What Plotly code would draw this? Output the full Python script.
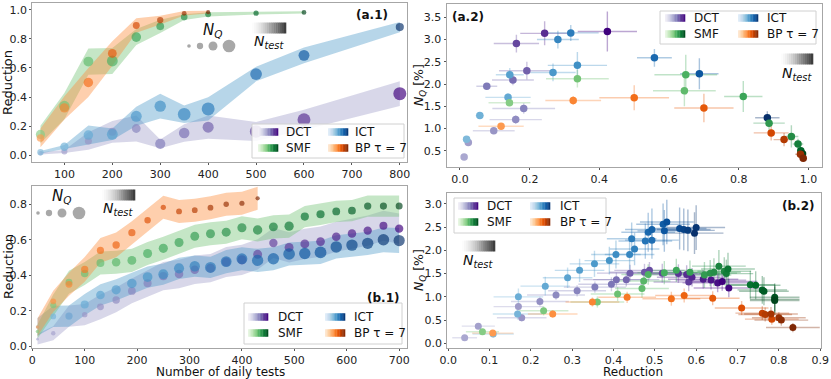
import numpy as np
import plotly.graph_objects as go
from plotly.colors import hex_to_rgb

W, H = 831, 379
FONT = "DejaVu Sans"

# ---------------- colour maps (matplotlib sequential) ----------------
PURPLES = ['#fcfbfd', '#efedf5', '#dadaeb', '#bcbddc', '#9e9ac8', '#807dba', '#6a51a3', '#54278f', '#3f007d']
BLUES = ['#f7fbff', '#deebf7', '#c6dbef', '#9ecae1', '#6baed6', '#4292c6', '#2171b5', '#08519c', '#08306b']
GREENS = ['#f7fcf5', '#e5f5e0', '#c7e9c0', '#a1d99b', '#74c476', '#41ab5d', '#238b45', '#006d2c', '#00441b']
ORANGES = ['#fff5eb', '#fee6ce', '#fdd0a2', '#fdae6b', '#fd8d3c', '#f16913', '#d94801', '#a63603', '#7f2704']
GREYS = ['#ffffff', '#f0f0f0', '#d9d9d9', '#bdbdbd', '#969696', '#737373', '#525252', '#252525']

# ---------------- data: panel (a) ----------------
a_dct_tests = [50, 100, 150, 200, 250, 300, 350, 400, 500, 600, 800]
a_dct_red = [0.012, 0.024, 0.097, 0.16, 0.183, 0.077, 0.152, 0.192, 0.162, 0.243, 0.423]
a_dct_red_err = [0.008, 0.01, 0.06, 0.075, 0.09, 0.03, 0.06, 0.08, 0.065, 0.07, 0.085]
a_dct_nq = [0.357, 0.687, 0.95, 1.20, 1.45, 1.95, 2.09, 2.30, 2.91, 3.14, 3.18]
a_dct_nq_err = [0.04, 0.05, 0.06, 0.1, 0.12, 0.06, 0.12, 0.2, 0.2, 0.27, 0.45]

a_ict_tests = [50, 100, 150, 200, 250, 300, 350, 400, 500, 600, 800]
a_ict_red = [0.019, 0.057, 0.138, 0.143, 0.267, 0.337, 0.281, 0.318, 0.558, 0.687, 0.882]
a_ict_red_err = [0.008, 0.012, 0.065, 0.04, 0.065, 0.085, 0.06, 0.08, 0.05, 0.055, 0.035]
a_ict_nq = [0.755, 1.29, 1.70, 2.21, 2.26, 2.42, 3.00, 3.15, 2.59, 2.23, 1.24]
a_ict_nq_err = [0.03, 0.05, 0.1, 0.15, 0.2, 0.3, 0.2, 0.18, 0.2, 0.35, 0.15]

a_smf_tests = [50, 100, 150, 200, 250, 300, 350, 400, 500, 600]
a_smf_red = [0.142, 0.337, 0.644, 0.648, 0.813, 0.887, 0.951, 0.97, 0.978, 0.983]
a_smf_red_err = [0.06, 0.09, 0.09, 0.09, 0.055, 0.045, 0.02, 0.015, 0.01, 0.008]
a_smf_nq = [1.58, 2.12, 1.85, 2.21, 1.72, 1.12, 0.82, 0.65, 0.50, 0.43]
a_smf_nq_err = [0.05, 0.2, 0.35, 0.45, 0.35, 0.2, 0.25, 0.12, 0.08, 0.06]

a_bp_tests = [50, 100, 150, 200, 250, 300, 350, 400]
a_bp_red = [0.118, 0.325, 0.50, 0.70, 0.893, 0.93, 0.977, 0.985]
a_bp_red_err = [0.065, 0.08, 0.1, 0.085, 0.05, 0.03, 0.015, 0.01]
a_bp_nq = [1.05, 1.63, 1.69, 1.46, 0.90, 0.75, 0.42, 0.33]
a_bp_nq_err = [0.05, 0.1, 0.28, 0.32, 0.17, 0.15, 0.08, 0.05]

# ---------------- data: panel (b) ----------------
b_tests = [10, 40, 70, 100, 130, 160, 190, 220, 250, 280, 310, 340, 370, 400,
           430, 460, 490, 520, 550, 580, 610, 640, 670, 700]
b_bp_tests = [10, 40, 70, 100, 130, 160, 190, 220, 250, 280, 310, 340, 370, 400, 430]

b_dct_red = [0.04, 0.073, 0.17, 0.178, 0.222, 0.261, 0.312, 0.355, 0.395, 0.407, 0.431, 0.44,
             0.475, 0.487, 0.518, 0.582, 0.557, 0.577, 0.59, 0.617, 0.636, 0.652, 0.679, 0.663]
b_dct_red_err = [0.03, 0.04, 0.06, 0.06, 0.07, 0.07, 0.07, 0.075, 0.08, 0.08, 0.08, 0.08,
                 0.085, 0.085, 0.085, 0.085, 0.085, 0.085, 0.085, 0.085, 0.085, 0.085, 0.085, 0.085]
b_dct_nq = [0.12, 0.37, 0.79, 0.55, 0.90, 1.04, 1.13, 1.21, 1.27, 1.37, 1.37, 1.51,
            1.53, 1.57, 1.51, 1.32, 1.50, 1.48, 1.42, 1.38, 1.36, 1.30, 1.19, 1.33]
b_dct_nq_err = [0.04, 0.06, 0.08, 0.08, 0.1, 0.1, 0.12, 0.12, 0.15, 0.15, 0.15, 0.18,
                0.18, 0.18, 0.2, 0.2, 0.2, 0.2, 0.2, 0.2, 0.2, 0.2, 0.2, 0.2]

b_ict_red = [0.109, 0.168, 0.17, 0.235, 0.289, 0.318, 0.354, 0.39, 0.406, 0.439, 0.451, 0.444,
             0.477, 0.493, 0.484, 0.493, 0.52, 0.523, 0.529, 0.56, 0.57, 0.58, 0.60, 0.596]
b_ict_red_err = [0.05, 0.06, 0.06, 0.06, 0.06, 0.06, 0.06, 0.06, 0.06, 0.06, 0.06, 0.06,
                 0.065, 0.065, 0.065, 0.065, 0.065, 0.065, 0.065, 0.065, 0.065, 0.065, 0.07, 0.07]
b_ict_nq = [0.20, 0.63, 1.0, 1.23, 1.41, 1.57, 1.71, 1.78, 1.91, 1.91, 2.03, 2.25,
            2.20, 2.22, 2.39, 2.45, 2.56, 2.42, 2.61, 2.47, 2.45, 2.43, 2.49, 2.37]
b_ict_nq_err = [0.08, 0.12, 0.18, 0.2, 0.22, 0.25, 0.28, 0.3, 0.3, 0.32, 0.35, 0.35,
                0.38, 0.4, 0.42, 0.45, 0.45, 0.45, 0.48, 0.45, 0.45, 0.45, 0.48, 0.45]

b_smf_red = [0.083, 0.231, 0.361, 0.41, 0.469, 0.473, 0.484, 0.523, 0.552, 0.585, 0.62, 0.634,
             0.643, 0.668, 0.655, 0.673, 0.677, 0.731, 0.744, 0.76, 0.764, 0.79, 0.79, 0.79]
b_smf_red_err = [0.04, 0.06, 0.065, 0.065, 0.065, 0.065, 0.065, 0.065, 0.065, 0.065, 0.065, 0.065,
                 0.065, 0.065, 0.065, 0.065, 0.065, 0.06, 0.06, 0.06, 0.06, 0.06, 0.06, 0.06]
b_smf_nq = [0.25, 0.70, 0.89, 1.06, 1.18, 1.34, 1.48, 1.52, 1.57, 1.53, 1.47, 1.51,
            1.53, 1.55, 1.66, 1.50, 1.60, 1.26, 1.25, 1.15, 1.12, 0.99, 0.95, 0.92]
b_smf_nq_err = [0.06, 0.1, 0.12, 0.15, 0.2, 0.2, 0.22, 0.25, 0.25, 0.25, 0.28, 0.28,
                0.3, 0.3, 0.35, 0.3, 0.35, 0.3, 0.3, 0.3, 0.3, 0.3, 0.3, 0.3]

b_bp_red = [0.108, 0.253, 0.349, 0.433, 0.54, 0.571, 0.64, 0.71, 0.783, 0.76, 0.767, 0.781, 0.80, 0.806, 0.834]
b_bp_red_err = [0.05, 0.06, 0.065, 0.07, 0.07, 0.07, 0.065, 0.065, 0.065, 0.065, 0.065, 0.065, 0.065, 0.065, 0.065]
b_bp_nq = [0.22, 0.63, 0.89, 0.99, 0.96, 1.03, 0.97, 0.76, 0.52, 0.65, 0.62, 0.63, 0.55, 0.50, 0.34]
b_bp_nq_err = [0.05, 0.08, 0.1, 0.12, 0.15, 0.15, 0.15, 0.15, 0.12, 0.15, 0.15, 0.15, 0.12, 0.12, 0.1]

nq_legend_sizes = [0.25, 0.75, 1.5, 3.0]

LEGEND_LABELS = ["DCT", "ICT", "SMF", "BP τ = 7"]

# ---------------- helpers ----------------
def interp(colors, v):
    n = len(colors) - 1
    p = min(max(v, 0.0), 1.0) * n
    i = min(int(p), n - 1)
    f = p - i
    c0, c1 = hex_to_rgb(colors[i]), hex_to_rgb(colors[i + 1])
    return tuple(int(round(a + (b - a) * f)) for a, b in zip(c0, c1))


def point_colors(cmap, tests, alpha=1.0):
    t = np.asarray(tests, float)
    u = (t - t.min()) / (t.max() - t.min())
    out = []
    for v in u:
        r, g, b = interp(cmap, 0.45 + 0.55 * v)
        out.append(f"rgba({r},{g},{b},{alpha})")
    return out


def diam(nq):
    return 7.3 * np.sqrt(np.asarray(nq, float))


def px(x):
    return x / W


def py(y):
    return 1 - y / H


fig = go.Figure()

BAND = {
    'dct': 'rgba(158,154,200,0.40)',
    'ict': 'rgba(66,146,198,0.38)',
    'smf': 'rgba(116,196,118,0.42)',
    'bp': 'rgba(253,141,60,0.42)',
}

series_a = [
    ('dct', PURPLES, a_dct_tests, a_dct_red, a_dct_red_err, a_dct_nq, a_dct_nq_err),
    ('ict', BLUES, a_ict_tests, a_ict_red, a_ict_red_err, a_ict_nq, a_ict_nq_err),
    ('smf', GREENS, a_smf_tests, a_smf_red, a_smf_red_err, a_smf_nq, a_smf_nq_err),
    ('bp', ORANGES, a_bp_tests, a_bp_red, a_bp_red_err, a_bp_nq, a_bp_nq_err),
]
series_b = [
    ('dct', PURPLES, b_tests, b_dct_red, b_dct_red_err, b_dct_nq, b_dct_nq_err),
    ('ict', BLUES, b_tests, b_ict_red, b_ict_red_err, b_ict_nq, b_ict_nq_err),
    ('smf', GREENS, b_tests, b_smf_red, b_smf_red_err, b_smf_nq, b_smf_nq_err),
    ('bp', ORANGES, b_bp_tests, b_bp_red, b_bp_red_err, b_bp_nq, b_bp_nq_err),
]


def add_reduction_panel(series, xa, ya):
    for key, cmap, tests, red, rerr, nq, nqerr in series:
        r = np.asarray(red, float)
        e = np.asarray(rerr, float)
        xs = list(tests) + list(tests)[::-1]
        ys = list(r + e) + list((r - e)[::-1])
        fig.add_trace(go.Scatter(x=xs, y=ys, fill='toself', fillcolor=BAND[key], mode='lines',
                                 line=dict(width=0), xaxis=xa, yaxis=ya, hoverinfo='skip', showlegend=False))
    for key, cmap, tests, red, rerr, nq, nqerr in series:
        fig.add_trace(go.Scatter(x=tests, y=red, mode='markers', xaxis=xa, yaxis=ya, showlegend=False,
                                 marker=dict(size=diam(nq), color=point_colors(cmap, tests, 0.95),
                                             line=dict(width=0))))


def add_scatter_panel(series, xa, ya, msize):
    for key, cmap, tests, red, rerr, nq, nqerr in series:
        ecols = point_colors(cmap, tests, 0.35)
        for i in range(len(tests)):
            fig.add_trace(go.Scatter(x=[red[i]], y=[nq[i]], mode='markers', xaxis=xa, yaxis=ya,
                                     showlegend=False, hoverinfo='skip',
                                     marker=dict(size=1, color='rgba(0,0,0,0)'),
                                     error_x=dict(type='data', array=[rerr[i]], color=ecols[i], thickness=1.4, width=0),
                                     error_y=dict(type='data', array=[nqerr[i]], color=ecols[i], thickness=1.4, width=0)))
    for key, cmap, tests, red, rerr, nq, nqerr in series:
        fig.add_trace(go.Scatter(x=red, y=nq, mode='markers', xaxis=xa, yaxis=ya, showlegend=False,
                                 marker=dict(size=msize, color=point_colors(cmap, tests, 1.0),
                                             line=dict(width=0))))


add_reduction_panel(series_a, 'x', 'y')
add_scatter_panel(series_a, 'x2', 'y2', 7.5)
add_reduction_panel(series_b, 'x3', 'y3')
add_scatter_panel(series_b, 'x4', 'y4', 7)

# ---------------- axes ----------------
def axis(domain, rng, tickvals, fmt, anchor):
    return dict(domain=domain, range=rng, tickvals=tickvals, tickformat=fmt, anchor=anchor,
                showgrid=False, zeroline=False, showline=True, mirror=True,
                linecolor='#a6a6a6', linewidth=1.3, ticks='outside', ticklen=2,
                tickcolor='#555', tickwidth=1, automargin=False,
                tickfont=dict(family=FONT, size=11, color='#222'))

layout = dict(
    width=W, height=H, margin=dict(l=0, r=0, t=0, b=0),
    paper_bgcolor='white', plot_bgcolor='white', showlegend=False,
    font=dict(family=FONT, color='#111'),
    xaxis=axis([px(32.3), px(407)], [33, 815], [100, 200, 300, 400, 500, 600, 700, 800], 'd', 'y'),
    yaxis=axis([py(162), py(3)], [-0.048, 1.048], [0, 0.2, 0.4, 0.6, 0.8, 1.0], '.1f', 'x'),
    xaxis2=axis([px(446.7), px(821.7)], [-0.038, 1.038], [0, 0.2, 0.4, 0.6, 0.8, 1.0], '.1f', 'y2'),
    yaxis2=axis([py(166.7), py(4)], [0.14, 3.8], [0.5, 1.0, 1.5, 2.0, 2.5, 3.0, 3.5], '.1f', 'x2'),
    xaxis3=axis([px(32.3), px(407)], [0, 715], [0, 100, 200, 300, 400, 500, 600, 700], 'd', 'y3'),
    yaxis3=axis([py(348), py(185.7)], [-0.01, 0.905], [0, 0.2, 0.4, 0.6, 0.8], '.1f', 'x3'),
    xaxis4=axis([px(447.3), px(821)], [-0.002, 0.902], [0, 0.1, 0.2, 0.3, 0.4, 0.5, 0.6, 0.7, 0.8, 0.9], '.1f', 'y4'),
    yaxis4=axis([py(348), py(192.7)], [-0.1, 3.24], [0, 0.5, 1.0, 1.5, 2.0, 2.5, 3.0], '.1f', 'x4'),
)
fig.update_layout(**layout)

shapes = []
annotations = []


def ann(x, y, text, size=12, **kw):
    d = dict(x=px(x), y=py(y), xref='paper', yref='paper', text=text, showarrow=False,
             xanchor='center', yanchor='middle', borderpad=0,
             font=dict(family=FONT, size=size, color='#111'))
    d.update(kw)
    annotations.append(d)


def grad_bar(x0, x1, yc, h, cmap, lo=0.08, hi=1.0, n=14):
    w = (x1 - x0) / n
    for k in range(n):
        r, g, b = interp(cmap, lo + (hi - lo) * (k + 0.5) / n)
        shapes.append(dict(type='rect', xref='paper', yref='paper', layer='above',
                           x0=px(x0 + k * w), x1=px(x0 + (k + 1) * w + 0.3),
                           y0=py(yc + h / 2), y1=py(yc - h / 2),
                           fillcolor=f'rgb({r},{g},{b})', line=dict(width=0)))


def legend(box, rows, bar1, text1, bar2, text2):
    x0, y0, x1, y1 = box
    shapes.append(dict(type='rect', xref='paper', yref='paper', layer='above',
                       x0=px(x0), x1=px(x1), y0=py(y1), y1=py(y0),
                       fillcolor='rgba(255,255,255,0.85)', line=dict(color='#d0d0d0', width=1)))
    entries = [(PURPLES, LEGEND_LABELS[0], 0, 0), (BLUES, LEGEND_LABELS[1], 0, 1),
               (GREENS, LEGEND_LABELS[2], 1, 0), (ORANGES, LEGEND_LABELS[3], 1, 1)]
    for cmap, label, row, col in entries:
        bx = bar1 if col == 0 else bar2
        tx = text1 if col == 0 else text2
        grad_bar(bx, bx + 20, rows[row], 7.5, cmap)
        ann(tx, rows[row], label, size=12, xanchor='left', yanchor='middle')


def ntest_bar(x0, x1, yc, tx, ty):
    grad_bar(x0, x1, yc, 11, GREYS, lo=0.0, hi=0.95, n=16)
    ann(tx, ty, '<i>N</i><sub><i>test</i></sub>', size=14)


def nq_legend(lx, ly, xs, yc):
    ann(lx, ly, '<i>N</i><sub><i>Q</i></sub>', size=15)
    for xc, s in zip(xs, nq_legend_sizes):
        d = 7.3 * np.sqrt(s)
        shapes.append(dict(type='circle', xref='paper', yref='paper', layer='above',
                           x0=px(xc - d / 2), x1=px(xc + d / 2), y0=py(yc + d / 2), y1=py(yc - d / 2),
                           fillcolor='#a8a8a8', line=dict(width=0)))


# legends
legend((252, 124, 404, 158), (132, 148), 258, 285, 328, 354)
legend((244, 303, 402, 344), (317, 333), 248, 277, 325, 353)
legend((660, 11, 816, 44), (18, 34), 665, 693, 738, 766)
legend((454, 198, 606, 233), (206, 222), 458, 486, 530, 559)

ntest_bar(252, 286, 28, 269, 42)
ntest_bar(102, 135, 195, 118, 209)
ntest_bar(781, 813, 59, 797, 74)
ntest_bar(462, 495, 246, 478, 261)

nq_legend(213, 30, [189, 200, 213, 229], 46)
nq_legend(62, 196, [38, 49, 62, 79], 213)

# panel labels
ann(372, 15, '<b>(a.1)</b>', size=12)
ann(468, 17, '<b>(a.2)</b>', size=12)
ann(383, 298, '<b>(b.1)</b>', size=12)
ann(798, 206, '<b>(b.2)</b>', size=12)

# axis titles
ann(8, 83, 'Reduction', size=13, textangle=-90)
ann(8, 267, 'Reduction', size=13, textangle=-90)
ann(420, 85, '<i>N</i><sub><i>Q</i></sub> [%]', size=12.5, textangle=-90)
ann(419, 270, '<i>N</i><sub><i>Q</i></sub> [%]', size=12.5, textangle=-90)
ann(220, 372, 'Number of daily tests', size=12)
ann(633, 372, 'Reduction', size=12)

fig.update_layout(shapes=shapes, annotations=annotations)
fig.write_html("out.html", config={'displayModeBar': False},
               post_script="document.body.style.margin='0px';document.body.style.padding='0px';"
                           "document.body.style.overflow='hidden';")
